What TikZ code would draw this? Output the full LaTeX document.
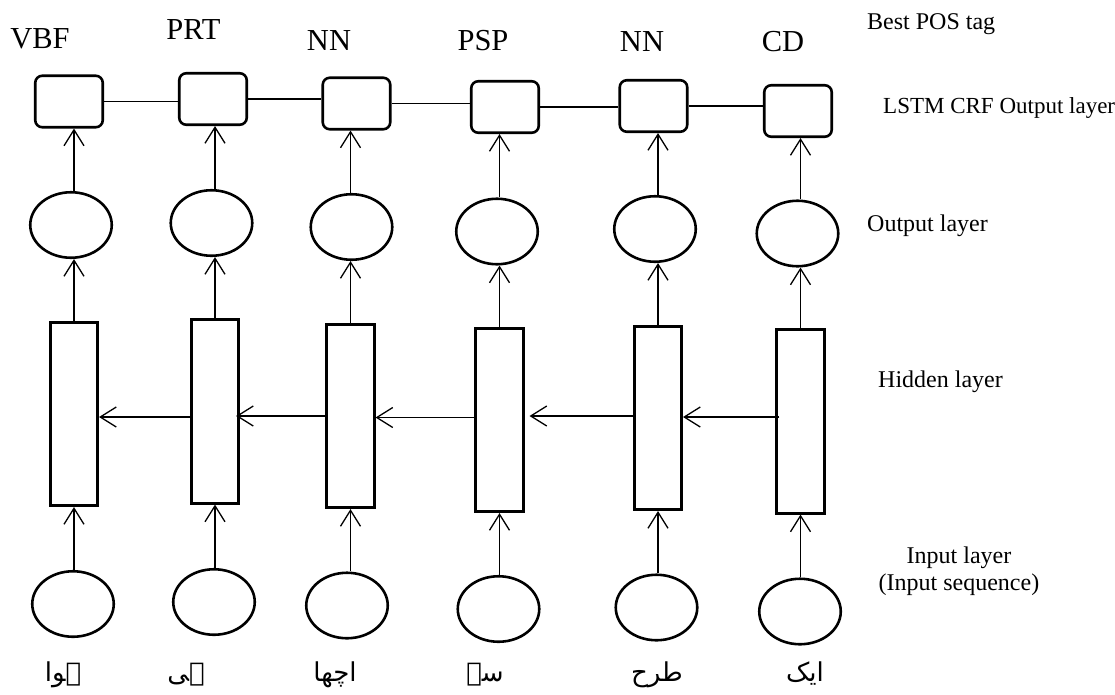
\documentclass[tikz,border=0pt]{standalone}
\usepackage{fontspec}
\setmainfont{Liberation Serif}
\newfontfamily\urdufont[Script=Arabic]{DejaVu Sans}
\TeXXeTstate=1
\usetikzlibrary{arrows.meta,shapes.geometric}
\begin{document}
\begin{tikzpicture}[x=1pt,y=-1pt,
  shapeline/.style={draw=black, line width=2.6pt},
  crfbox/.style={shapeline, rectangle, rounded corners=7pt, minimum width=67.5pt, minimum height=51.5pt, inner sep=0pt},
  neuron/.style={shapeline, ellipse, minimum width=81.5pt, minimum height=65.5pt, inner sep=0pt},
  hidbox/.style={shapeline, rectangle, minimum width=47.5pt, minimum height=183.5pt, inner sep=0pt},
  conn/.style={line width=1.3pt},
  arr/.style={conn, -{Straight Barb[length=16pt,width=20pt]}},
  tag/.style={font=\fontsize{30.5}{36}\selectfont, anchor=base, inner sep=0pt},
  lbl/.style={font=\fontsize{24}{27}\selectfont, anchor=base west, inner sep=0pt},
  word/.style={font=\urdufont\fontsize{26}{30}\selectfont, anchor=base, inner sep=0pt}
]
\useasboundingbox (0,0) rectangle (1115,694);

% CRF boxes
\node[crfbox] (B1) at (69,101.5) {};
\node[crfbox] (B2) at (213,99) {};
\node[crfbox] (B3) at (356.5,103.5) {};
\node[crfbox] (B4) at (505,107) {};
\node[crfbox] (B5) at (653.5,106) {};
\node[crfbox] (B6) at (798,111) {};

% output layer
\node[neuron] (O1) at (71,225) {};
\node[neuron] (O2) at (211.5,223) {};
\node[neuron] (O3) at (351.5,227) {};
\node[neuron] (O4) at (497,231.5) {};
\node[neuron] (O5) at (655,229) {};
\node[neuron] (O6) at (797.5,233.5) {};

% hidden layer
\node[hidbox] (R1) at (74,414) {};
\node[hidbox] (R2) at (215,411.5) {};
\node[hidbox] (R3) at (350.5,416) {};
\node[hidbox] (R4) at (499.5,420) {};
\node[hidbox] (R5) at (658,418) {};
\node[hidbox] (R6) at (800.5,421.5) {};

% input layer
\node[neuron] (I1) at (73,604) {};
\node[neuron] (I2) at (214,602) {};
\node[neuron] (I3) at (347,605.5) {};
\node[neuron] (I4) at (498.5,609) {};
\node[neuron] (I5) at (656.5,607.5) {};
\node[neuron] (I6) at (800,611.5) {};

% tags
\node[tag] (T1) at (40,48) {VBF};
\node[tag] (T2) at (193.5,39.5) {PRT};
\node[tag] (T3) at (329,50) {NN};
\node[tag] (T4) at (483,50) {PSP};
\node[tag] (T5) at (642,51) {NN};
\node[tag] (T6) at (783,51) {CD};

% words
\node[word] (W1) at (63,681) {\beginR ہوا\endR};
\node[word] (W2) at (186,681) {\beginR ہی\endR};
\node[word] (W3) at (335,681) {\beginR اچھا\endR};
\node[word] (W4) at (485,681) {\beginR سے\endR};
\node[word] (W5) at (657,681) {\beginR طرح\endR};
\node[word] (W6) at (805,681) {\beginR ایک\endR};

% right labels
\node[lbl] (L1) at (867,29) {Best POS tag};
\node[lbl, font=\fontsize{23}{27}\selectfont] (L2) at (883,113) {LSTM CRF Output layer};
\node[lbl] (L3) at (867,231) {Output layer};
\node[lbl] (L4) at (878,387) {Hidden layer};
\node[font=\fontsize{24}{27}\selectfont, align=center, inner sep=0pt, anchor=base] (L5) at (959,590) {Input layer\\(Input sequence)};

% CRF chain
\draw[conn] (B1.east) -- (B1.east -| B2.west);
\draw[conn] (B2.east) -- (B2.east -| B3.west);
\draw[conn] (B3.east) -- (B3.east -| B4.west);
\draw[conn] (B4.east) -- (B4.east -| B5.west);
\draw[conn] (B5.east) -- (B5.east -| B6.west);

% vertical connectors
\foreach \i in {1,...,6}{
  \draw[arr] (R\i.south |- I\i.north) -- (R\i.south);
  \draw[arr] (R\i.north) -- (R\i.north |- O\i.south);
  \draw[arr] (R\i.north |- O\i.north) -- (R\i.north |- B\i.south);
}

% backward hidden connections
\coordinate (h12) at (0,417);
\coordinate (h23) at (0,416);
\coordinate (h34) at (0,417.5);
\coordinate (h45) at (0,416);
\coordinate (h56) at (0,417);
\draw[arr] (R2.west |- h12) -- (R1.east |- h12);
\draw[arr] (R3.west |- h23) -- ([xshift=-4pt]R2.east |- h23);
\draw[arr] (R4.west |- h34) -- (R3.east |- h34);
\draw[arr] (R5.west |- h45) -- ([xshift=5pt]R4.east |- h45);
\draw[arr] ([xshift=4pt]R6.west |- h56) -- (R5.east |- h56);
\end{tikzpicture}
\end{document}
